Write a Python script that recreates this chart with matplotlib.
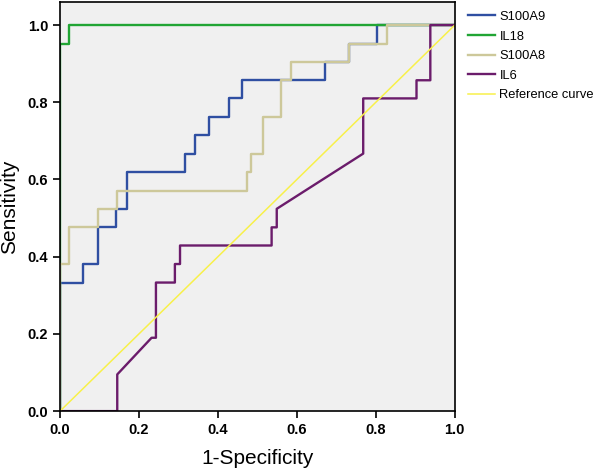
import numpy as np
import matplotlib
matplotlib.use('Agg')
import matplotlib.pyplot as plt

plt.rcParams['font.family'] = ['Liberation Sans', 'DejaVu Sans']

# ROC curves (1-specificity, sensitivity)
s100a9_x = [0, 0, 0.059, 0.059, 0.097, 0.097, 0.143, 0.143, 0.169, 0.169, 0.316, 0.316,
            0.342, 0.342, 0.378, 0.378, 0.427, 0.427, 0.462, 0.462, 0.671, 0.671,
            0.733, 0.733, 0.804, 0.804, 1.0]
s100a9_y = [0, 0.333, 0.333, 0.381, 0.381, 0.476, 0.476, 0.524, 0.524, 0.619, 0.619, 0.667,
            0.667, 0.714, 0.714, 0.762, 0.762, 0.810, 0.810, 0.857, 0.857, 0.905,
            0.905, 0.952, 0.952, 1.0, 1.0]
il18_x = [0, 0, 0.024, 0.024, 1.0]
il18_y = [0, 0.952, 0.952, 1.0, 1.0]
s100a8_x = [0, 0, 0.023, 0.023, 0.097, 0.097, 0.145, 0.145, 0.474, 0.474, 0.485, 0.485,
            0.513, 0.513, 0.561, 0.561, 0.584, 0.584, 0.733, 0.733, 0.829, 0.829, 1.0]
s100a8_y = [0, 0.381, 0.381, 0.476, 0.476, 0.524, 0.524, 0.571, 0.571, 0.619, 0.619, 0.667,
            0.667, 0.762, 0.762, 0.857, 0.857, 0.905, 0.905, 0.952, 0.952, 1.0, 1.0]
il6_x = [0, 0.145, 0.145, 0.232, 0.243, 0.243, 0.291, 0.291, 0.304, 0.304, 0.536, 0.536,
         0.549, 0.549, 0.768, 0.768, 0.903, 0.903, 0.938, 0.938, 1.0]
il6_y = [0, 0, 0.095, 0.190, 0.190, 0.333, 0.333, 0.381, 0.381, 0.429, 0.429, 0.476,
         0.476, 0.524, 0.667, 0.810, 0.810, 0.857, 0.857, 1.0, 1.0]
ref_x = [0, 1]
ref_y = [0, 1]

fig = plt.figure(figsize=(6, 4.72), dpi=100)
ax = fig.add_axes([0.1, 0.129, 0.658, 0.867])
ax.set_facecolor('#f0f0f0')

ax.plot(s100a9_x, s100a9_y, color='#2f4fa2', linewidth=1.7, label='S100A9')
ax.plot(il18_x, il18_y, color='#21a534', linewidth=1.7, label='IL18')
ax.plot(s100a8_x, s100a8_y, color='#cdc89a', linewidth=1.7, label='S100A8')
ax.plot(il6_x, il6_y, color='#6b1c6b', linewidth=1.7, label='IL6')
ax.plot(ref_x, ref_y, color='#f8f04a', linewidth=1.1, label='Reference curve')

ax.set_xlim(0, 1.0)
ax.set_ylim(0, 1.06)
ax.set_xticks(np.arange(0, 1.01, 0.2))
ax.set_yticks(np.arange(0, 1.01, 0.2))
ax.set_xticklabels(['0.0', '0.2', '0.4', '0.6', '0.8', '1.0'])
ax.set_yticklabels(['0.0', '0.2', '0.4', '0.6', '0.8', '1.0'])
ax.tick_params(direction='out', length=5, width=1.2, labelsize=10.5, colors='black')
for lab in ax.get_xticklabels() + ax.get_yticklabels():
    lab.set_fontweight('bold')
for sp in ax.spines.values():
    sp.set_linewidth(1.2)
    sp.set_color('black')

ax.set_xlabel('1-Specificity', fontsize=15, labelpad=9)
ax.set_ylabel('Sensitivity', fontsize=15, labelpad=6)

ax.legend(loc='upper left', bbox_to_anchor=(1.01, 1.0), frameon=False, fontsize=9.3,
          handlelength=2.1, handletextpad=0.35, labelspacing=0.58, borderaxespad=0.3)

fig.savefig('out.png', dpi=100)
